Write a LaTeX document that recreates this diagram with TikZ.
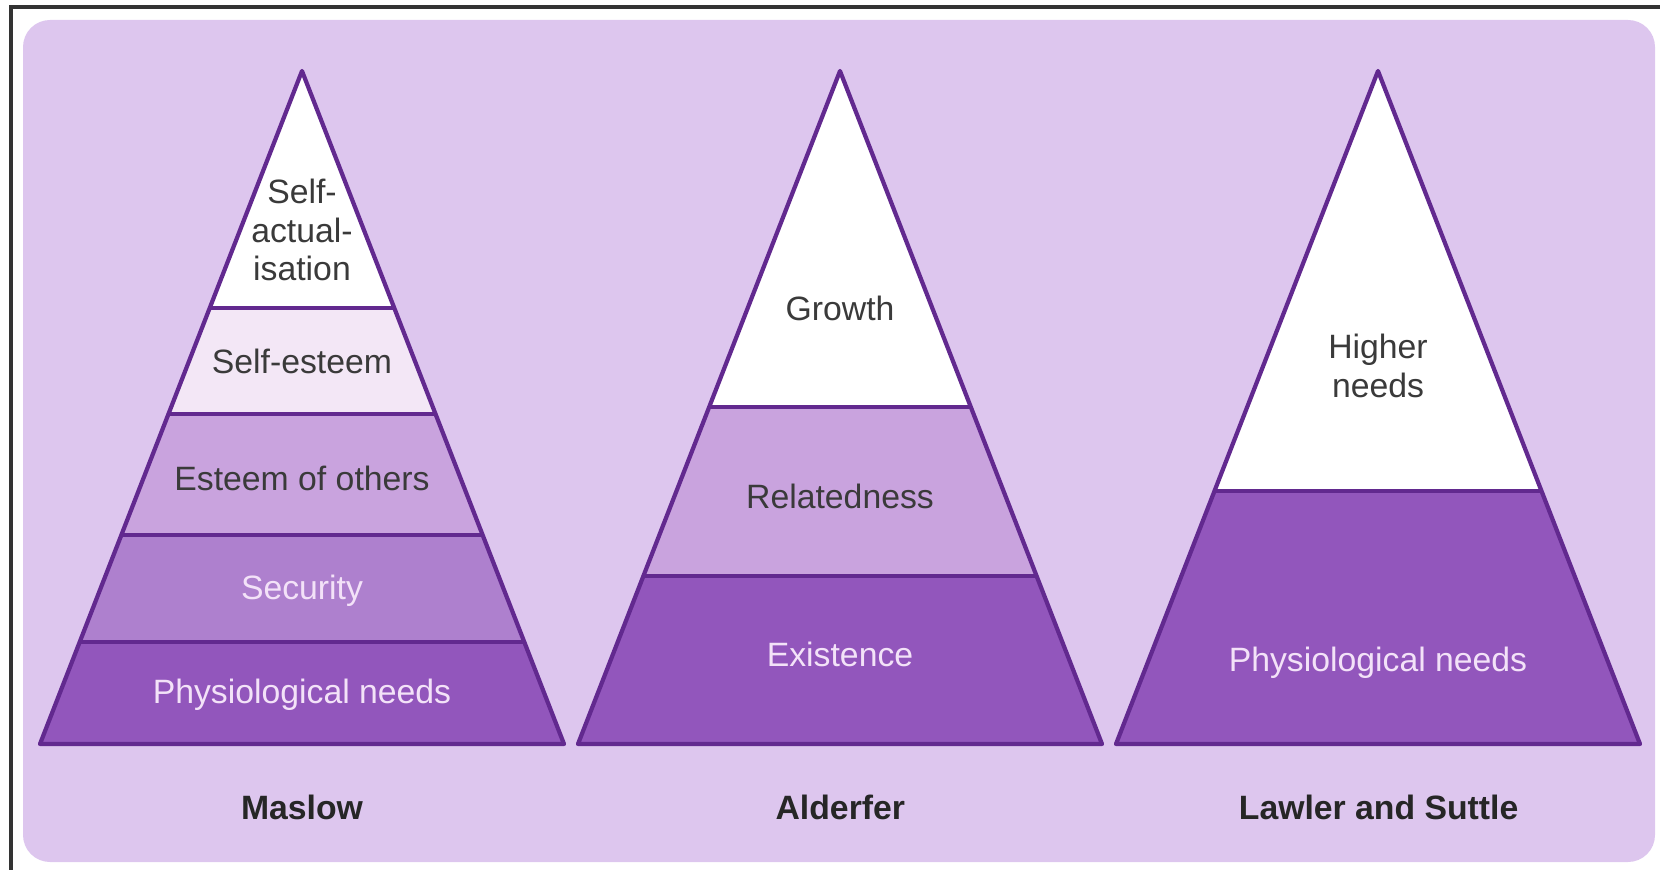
\documentclass[tikz,border=0pt]{standalone}
\usepackage{fontspec}
\setmainfont{Liberation Sans}
\usetikzlibrary{positioning}
\definecolor{panel}{HTML}{DDC6EE}
\definecolor{rimpurple}{HTML}{62298F}
\definecolor{tierA}{HTML}{FFFFFF}
\definecolor{tierB}{HTML}{F3E7F6}
\definecolor{tierC}{HTML}{C9A3DE}
\definecolor{tierD}{HTML}{AE80CE}
\definecolor{tierE}{HTML}{9256BC}
\definecolor{darktext}{HTML}{3A3A3A}
\definecolor{lighttext}{HTML}{F3E2F8}

\begin{document}
\begin{tikzpicture}[x=0.01cm,y=0.01cm,node distance=5.38cm,on grid,
  font=\fontsize{9.6}{11}\selectfont,
  rim/.style={draw=rimpurple,line width=1.2pt,line join=round},
  dark/.style={text=darktext,align=center},
  light/.style={text=lighttext,align=center},
  title/.style={font=\fontsize{9.6}{11}\selectfont\bfseries,text=black!85}]
  \useasboundingbox (0,0) rectangle (1660,869);
  % frame and panel
  \draw[line width=1.1pt,black!80] (11,-5) -- (11,862) -- (1665,862);
  \fill[panel,rounded corners=0.27cm] (23,7) rectangle (1655,849);

  % Maslow
  \begin{scope}
    \clip (40,125) -- (302,798) -- (564,125) -- cycle;
    \fill[tierE] (0,125) rectangle (600,227);
    \fill[tierD] (0,227) rectangle (600,334);
    \fill[tierC] (0,334) rectangle (600,455);
    \fill[tierB] (0,455) rectangle (600,561);
    \fill[tierA] (0,561) rectangle (600,800);
    \draw[rim] (0,227) -- (600,227) (0,334) -- (600,334)
               (0,455) -- (600,455) (0,561) -- (600,561);
  \end{scope}
  \draw[rim] (40,125) -- (302,798) -- (564,125) -- cycle;

  % Alderfer
  \begin{scope}
    \clip (578,125) -- (840,798) -- (1102,125) -- cycle;
    \fill[tierE] (560,125) rectangle (1120,293);
    \fill[tierC] (560,293) rectangle (1120,462);
    \fill[tierA] (560,462) rectangle (1120,800);
    \draw[rim] (560,293) -- (1120,293) (560,462) -- (1120,462);
  \end{scope}
  \draw[rim] (578,125) -- (840,798) -- (1102,125) -- cycle;

  % Lawler and Suttle
  \begin{scope}
    \clip (1116,125) -- (1378,798) -- (1640,125) -- cycle;
    \fill[tierE] (1100,125) rectangle (1660,378);
    \fill[tierA] (1100,378) rectangle (1660,800);
    \draw[rim] (1100,378) -- (1660,378);
  \end{scope}
  \draw[rim] (1116,125) -- (1378,798) -- (1640,125) -- cycle;

  \node[dark]  (mas_1) at (302,639) {Self-\\actual-\\isation};
  \node[dark]  (mas_2) at (302,508) {Self-esteem};
  \node[dark]  (mas_3) at (302,391) {Esteem of others};
  \node[light] (mas_4) at (302,278) {Security};
  \node[light] (mas_5) at (302,174) {Physiological needs};

  \node[dark]  (ald_1) at (840,561) {Growth};
  \node[dark]  (ald_2) at (840,373) {Relatedness};
  \node[light] (ald_3) at (840,215) {Existence};

  \node[dark]  (law_1) at (1378,503) {Higher\\needs};
  \node[light] (law_2) at (1378,206) {Physiological needs};

  \node[title] (mas) at (302,62) {Maslow};
  \node[title] (ald) [right=of mas] {Alderfer};
  \node[title] (law) [right=of ald] {Lawler and Suttle};
\end{tikzpicture}
\end{document}
